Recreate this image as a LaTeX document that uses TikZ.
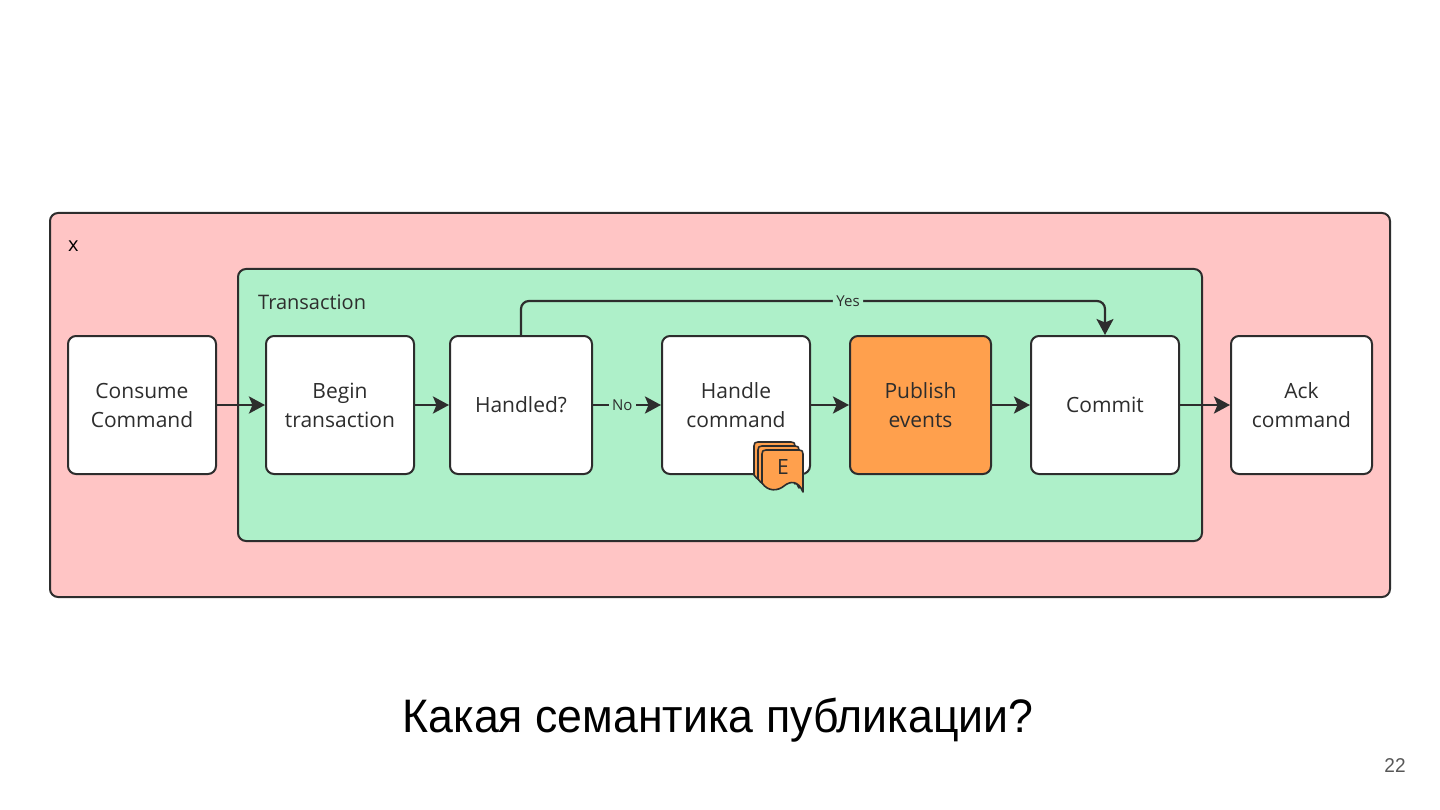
\documentclass[tikz,border=0pt]{standalone}
\usepackage{fontspec}
\setmainfont{Open Sans}
\newfontfamily\titlefont[FakeStretch=0.95]{Liberation Sans}
\usetikzlibrary{arrows.meta}
\definecolor{pinkbg}{RGB}{255,197,197}
\definecolor{greenbg}{RGB}{174,240,201}
\definecolor{orangebox}{RGB}{255,160,77}
\definecolor{ink}{RGB}{45,45,45}
\newcommand{\evcard}[2]{%
\draw [evpart, shift={(#1,#2)}] (41,42) .. controls (36,30) and (28,31) .. (22,36)
  .. controls (16,41) and (6,42) .. (0,33) -- (0,4) .. controls (0,1) and (1,0) .. (4,0)
  -- (37,0) .. controls (40,0) and (41,1) .. (41,4) -- cycle;}
\begin{document}
\begin{tikzpicture}[x=1pt,y=-1pt,
  frame/.style={draw=ink, line width=2pt, rounded corners=8pt},
  proc/.style={draw=ink, line width=2pt, rounded corners=8pt, fill=white,
    minimum width=148pt, minimum height=138pt, align=center,
    font=\fontsize{21}{29}\selectfont, text=ink},
  flow/.style={draw=ink, line width=2.8pt, -{Stealth[length=16pt,width=17pt,inset=3.5pt]}},
  lbl/.style={fill=greenbg, inner sep=3.5pt, font=\fontsize{15}{17}\selectfont, text=ink},
  evpart/.style={fill=orangebox, draw=ink, line width=1.6pt, line join=round}]
\useasboundingbox (0,0) rectangle (1440,810);
\node [frame, fill=pinkbg, minimum width=1340pt, minimum height=384pt] (outer) at (720,405) {};
\node [anchor=west, inner sep=0pt, font=\fontsize{20}{24}\selectfont] (outerlbl) at (68,246) {x};
\node [frame, fill=greenbg, minimum width=964pt, minimum height=272pt] (txn) at (720,405) {};
\node [anchor=west, inner sep=0pt, font=\fontsize{20}{24}\selectfont, text=ink] (txnlbl) at (258,302) {Transaction};
% steps
\node [proc] (consume) at (142,405) {Consume\\Command};
\node [proc] (begin) at (340,405) {Begin\\transaction};
\node [proc, minimum width=142pt] (handled) at (521,405) {Handled?};
\node [proc] (handle) at (736,405) {Handle\\command};
\node [proc, minimum width=141pt, fill=orangebox] (publish) at (920.5,405) {Publish\\events};
\node [proc] (commit) at (1105,405) {Commit};
\node [proc, minimum width=141pt] (ack) at (1301.5,405) {Ack\\command};
% events
\evcard{754}{442}
\evcard{758}{446}
\evcard{762}{450}
\node [font=\fontsize{21}{24}\selectfont, text=ink] (ev) at (783,467) {E};
% arrows
\coordinate (yes) at (1105,301);
\draw [flow] (consume) -- (begin);
\draw [flow] (begin) -- (handled);
\draw [flow] (handled) -- node [lbl, pos=0.43] {No} (handle);
\draw [flow] (handle) -- (publish);
\draw [flow] (publish) -- (commit);
\draw [flow] (commit) -- (ack);
\draw [flow, line width=2.2pt, rounded corners=8pt] (handled.north) |- node [lbl, pos=0.78] {Yes} (yes) -- (commit.north);
% caption
\node [font=\titlefont\fontsize{47}{50}\selectfont] (title) at (718,720) {Какая семантика публикации?};
\node [font=\titlefont\fontsize{20}{22}\selectfont, text=ink!80] (page) at (1395,766) {22};
\end{tikzpicture}
\end{document}
